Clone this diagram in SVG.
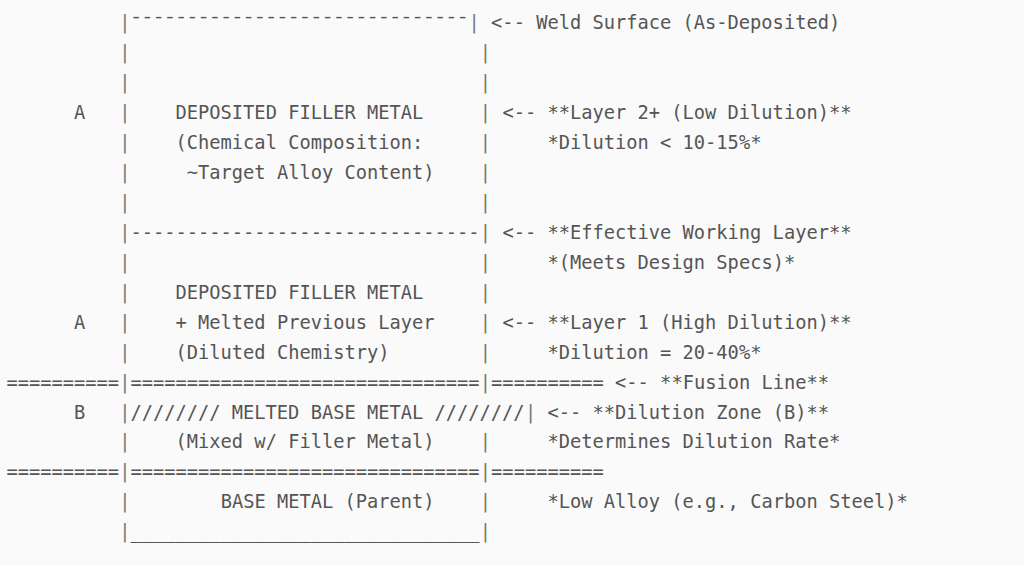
<svg xmlns="http://www.w3.org/2000/svg" width="1024" height="565" viewBox="0 0 1024 565">
<style>
  text { font-family: "DejaVu Sans Mono", "Liberation Mono", monospace; font-size: 18.72px; fill: #555555; white-space: pre; }
  .bar { fill: #777777; }
</style>
<rect x="0" y="0" width="1024" height="565" fill="#fafafa"/>

<g id="weld-surface">
  <text y="29.3"><tspan x="119.2" class="bar">|</tspan><tspan x="130.47" dy="2.5">¯¯¯¯¯¯¯¯¯¯¯¯¯¯¯¯¯¯¯¯¯¯¯¯¯¯¯¯¯¯</tspan><tspan x="468.57" dy="-2.5" class="bar">|</tspan><tspan x="491.11">&lt;-- Weld Surface (As-Deposited)</tspan></text>
  <text y="59.24"><tspan x="119.2" class="bar">|</tspan><tspan x="479.84" class="bar">|</tspan></text>
  <text y="89.18"><tspan x="119.2" class="bar">|</tspan><tspan x="479.84" class="bar">|</tspan></text>
</g>

<g id="layer-2">
  <text y="119.12"><tspan x="74.12">A</tspan><tspan x="119.2" class="bar">|</tspan><tspan x="175.55">DEPOSITED FILLER METAL</tspan><tspan x="479.84" class="bar">|</tspan><tspan x="502.38">&lt;-- **Layer 2+ (Low Dilution)**</tspan></text>
  <text y="149.06"><tspan x="119.2" class="bar">|</tspan><tspan x="175.55">(Chemical Composition:</tspan><tspan x="479.84" class="bar">|</tspan><tspan x="547.46">*Dilution &lt; 10-15%*</tspan></text>
  <text y="179.0"><tspan x="119.2" class="bar">|</tspan><tspan x="186.82">~Target Alloy Content)</tspan><tspan x="479.84" class="bar">|</tspan></text>
  <text y="208.94"><tspan x="119.2" class="bar">|</tspan><tspan x="479.84" class="bar">|</tspan></text>
</g>

<g id="effective-working-layer">
  <text y="238.88"><tspan x="119.2" class="bar">|</tspan><tspan x="130.47">-------------------------------</tspan><tspan x="479.84" class="bar">|</tspan><tspan x="502.38">&lt;-- **Effective Working Layer**</tspan></text>
  <text y="268.82"><tspan x="119.2" class="bar">|</tspan><tspan x="479.84" class="bar">|</tspan><tspan x="547.46">*(Meets Design Specs)*</tspan></text>
</g>

<g id="layer-1">
  <text y="298.76"><tspan x="119.2" class="bar">|</tspan><tspan x="175.55">DEPOSITED FILLER METAL</tspan><tspan x="479.84" class="bar">|</tspan></text>
  <text y="328.7"><tspan x="74.12">A</tspan><tspan x="119.2" class="bar">|</tspan><tspan x="175.55">+ Melted Previous Layer</tspan><tspan x="479.84" class="bar">|</tspan><tspan x="502.38">&lt;-- **Layer 1 (High Dilution)**</tspan></text>
  <text y="358.64"><tspan x="119.2" class="bar">|</tspan><tspan x="175.55">(Diluted Chemistry)</tspan><tspan x="479.84" class="bar">|</tspan><tspan x="547.46">*Dilution = 20-40%*</tspan></text>
</g>

<g id="fusion-line">
  <text y="388.58"><tspan x="6.5">==========</tspan><tspan x="119.2" class="bar">|</tspan><tspan x="130.47">===============================</tspan><tspan x="479.84" class="bar">|</tspan><tspan x="491.11">==========</tspan><tspan x="615.08">&lt;-- **Fusion Line**</tspan></text>
</g>

<g id="dilution-zone">
  <text y="418.52"><tspan x="74.12">B</tspan><tspan x="119.2" class="bar">|</tspan><tspan x="130.47">//////// MELTED BASE METAL ////////</tspan><tspan x="524.92" class="bar">|</tspan><tspan x="547.46">&lt;-- **Dilution Zone (B)**</tspan></text>
  <text y="448.46"><tspan x="119.2" class="bar">|</tspan><tspan x="175.55">(Mixed w/ Filler Metal)</tspan><tspan x="479.84" class="bar">|</tspan><tspan x="547.46">*Determines Dilution Rate*</tspan></text>
  <text y="478.4"><tspan x="6.5">==========</tspan><tspan x="119.2" class="bar">|</tspan><tspan x="130.47">===============================</tspan><tspan x="479.84" class="bar">|</tspan><tspan x="491.11">==========</tspan></text>
</g>

<g id="base-metal">
  <text y="508.34"><tspan x="119.2" class="bar">|</tspan><tspan x="220.63">BASE METAL (Parent)</tspan><tspan x="479.84" class="bar">|</tspan><tspan x="547.46">*Low Alloy (e.g., Carbon Steel)*</tspan></text>
  <text y="538.28"><tspan x="119.2" class="bar">|</tspan><tspan x="130.47">_______________________________</tspan><tspan x="479.84" class="bar">|</tspan></text>
</g>
</svg>
